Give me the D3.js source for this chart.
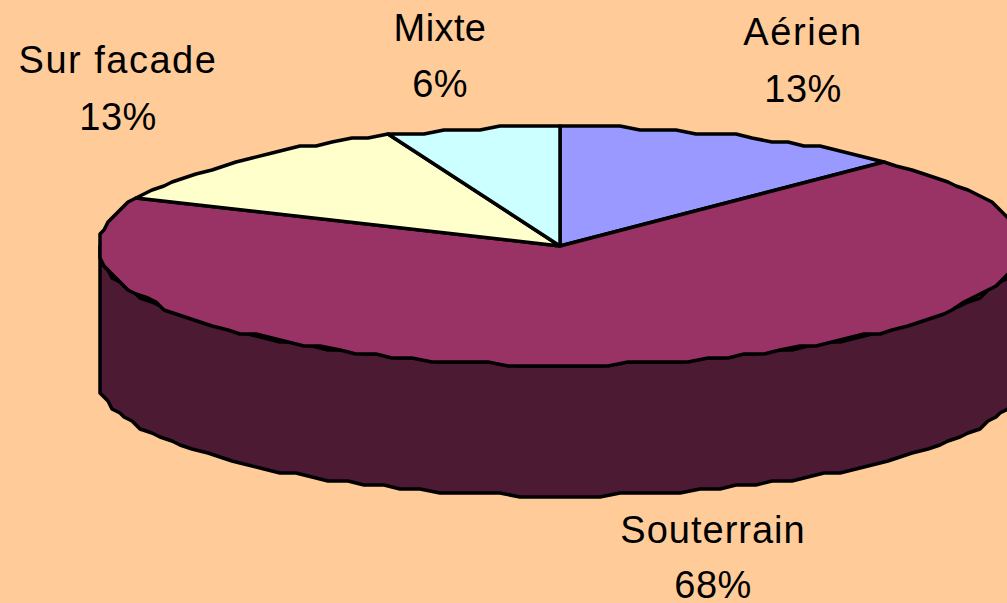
<!DOCTYPE html>
<html><head><meta charset="utf-8">
<script src="https://cdn.jsdelivr.net/npm/d3@7/dist/d3.min.js"></script>
<style>html,body{margin:0;padding:0;background:#FFCC99;overflow:hidden}svg{display:block}</style>
</head><body><svg id="c" width="1007" height="603"></svg>
<script>
const categories = ["Aérien","Souterrain","Sur facade","Mixte"];
const values = [12.3, 69.2, 12.4, 6.1];
const percentLabels = ["13%","68%","13%","6%"];
const colors = ["#9999FF","#993366","#FFFFCC","#CCFFFF"];
const sideColor = "#4D1A33";
const labelPos = [[803,45,102],[713,543,598],[118,73,130],[440,41,97]];
const labelSpacing = [1.6,1,1.5,0.4];

const W=1007,H=603,cx=560,cy=246,rx=462,ry=119,depth=131;
const svg=d3.select("#c");
svg.append("rect").attr("width",W).attr("height",H).attr("fill","#FFCC99");
const pie=d3.pie().sort(null).value(d=>d)(values);
const sx=d3.scaleLinear().domain([-1,1]).range([-rx,rx]);
const sy=d3.scaleLinear().domain([-1,1]).range([-ry,ry]);
const stepDeg=2.5;
function rimPts(a0,a1){
  const n=Math.max(1,Math.ceil((a1-a0)/(stepDeg*Math.PI/180)));
  return d3.range(n+1).map(i=>{const a=a0+(a1-a0)*i/n;
    const x=sx(Math.sin(a)), y=sy(-Math.cos(a));
    return [cx+Math.round(x/4)*4, cy+Math.round(y/4)*4];});
}
const line=d3.line();
const front=rimPts(Math.PI/2,3*Math.PI/2);
const wall=front.concat(front.slice().reverse().map(p=>[p[0],p[1]+depth]));
svg.append("path").attr("d",line(wall)+"Z").attr("fill",sideColor)
  .attr("stroke","#000").attr("stroke-width",3.5).attr("stroke-linejoin","round");
svg.selectAll("path.slice").data(pie).join("path").attr("class","slice")
  .attr("d",d=>line([[cx,cy],...rimPts(d.startAngle,d.endAngle)])+"Z")
  .attr("fill",(d,i)=>colors[i]).attr("stroke","#000").attr("stroke-width",3.5)
  .attr("stroke-linejoin","round");
const t=svg.selectAll("g.lab").data(categories).join("g").attr("class","lab")
  .attr("font-family","'Liberation Sans',Arial,sans-serif").attr("font-size",38)
  .attr("text-anchor","middle").attr("fill","#000");
t.append("text").attr("x",(d,i)=>labelPos[i][0]).attr("y",(d,i)=>labelPos[i][1])
  .attr("letter-spacing",(d,i)=>labelSpacing[i]).text(d=>d);
t.append("text").attr("x",(d,i)=>labelPos[i][0]).attr("y",(d,i)=>labelPos[i][2])
  .attr("letter-spacing",0.4).text((d,i)=>percentLabels[i]);
</script></body></html>
